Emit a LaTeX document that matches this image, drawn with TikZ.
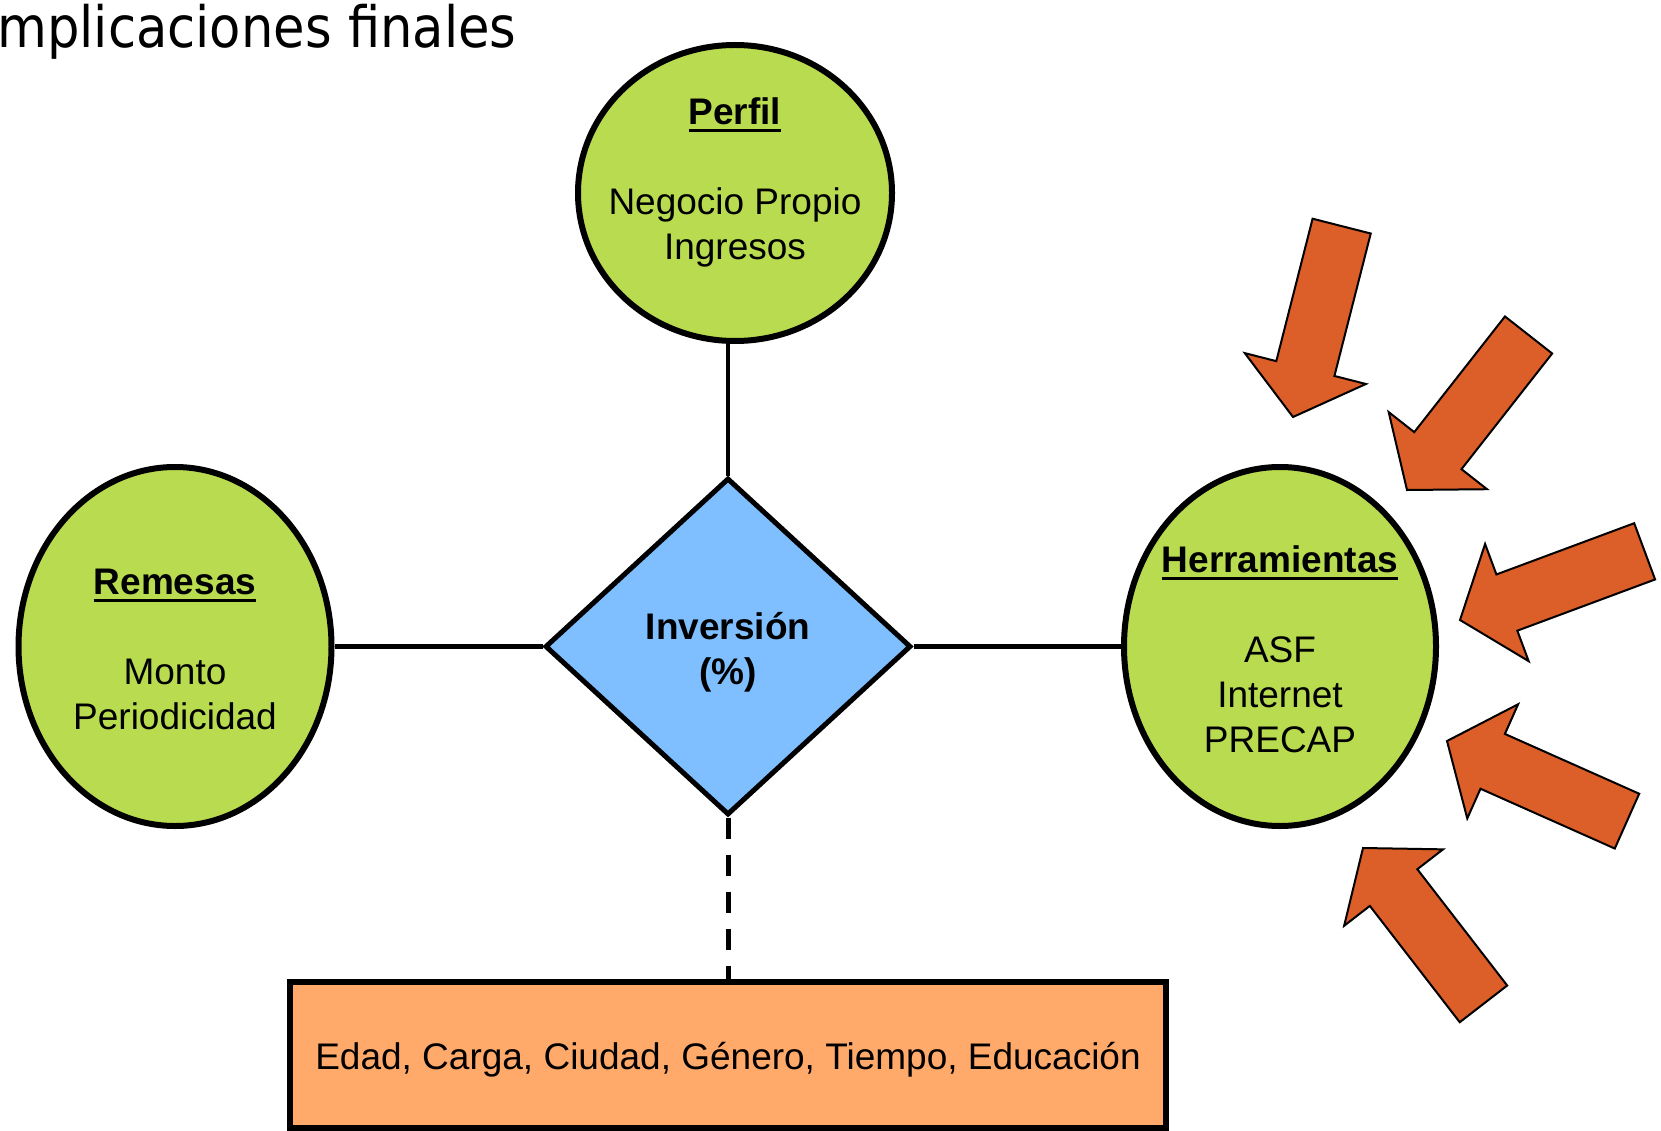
\documentclass[tikz,border=0pt]{standalone}
\usepackage{fontspec}
\setmainfont{Liberation Sans}
\newfontfamily\titlefont{DejaVu Sans}
\usetikzlibrary{shapes.geometric}

\definecolor{verde}{RGB}{185,219,79}
\definecolor{azul}{RGB}{128,191,255}
\definecolor{salmon}{RGB}{255,169,107}
\definecolor{naranja}{RGB}{220,94,40}

\newcommand{\subrayado}[1]{\setbox0\hbox{\textbf{#1}}\rlap{\rule[-7.6pt]{\wd0}{3.3pt}}\box0}

\tikzset{
  ent/.style={ellipse, draw, line width=6pt, fill=verde, inner xsep=-20pt,
    inner ysep=0pt, align=center, font=\fontsize{37}{45}\selectfont},
  rel/.style={diamond, draw, line width=5pt, fill=azul, inner sep=0pt,
    align=center, font=\fontsize{37}{45}\selectfont\bfseries},
  cajon/.style={rectangle, draw, line width=6pt, fill=salmon, inner sep=0pt,
    text height=28pt, text depth=0pt, font=\fontsize{37}{45}\selectfont},
  conn/.style={line width=4.5pt},
  flecha/.style={draw, line width=2pt, fill=naranja, line join=miter}
}

\begin{document}
\begin{tikzpicture}[x=1pt, y=1pt]
\useasboundingbox (0,0) rectangle (1661,-1131);

\node[anchor=base west, inner sep=0pt] (titulo) at (-3,-47.5)
  {\fontsize{57}{60}\titlefont\scalebox{0.898}[1]{mplicaciones finales}};

\node[ent, minimum width=314pt, minimum height=296pt] (perfil) at (735,-193)
  {\subrayado{Perfil}\\[45pt]Negocio Propio\\Ingresos\rule[-29pt]{0pt}{29pt}};
\node[ent, minimum width=313pt, minimum height=359pt] (remesas) at (175,-646.5)
  {\rule{0pt}{32pt}\subrayado{Remesas}\\[45pt]Monto\\Periodicidad};
\node[ent, minimum width=312pt, minimum height=359pt] (herram) at (1280,-646.5)
  {\rule{0pt}{32pt}\subrayado{Herramientas}\\[45pt]ASF\\Internet\\PRECAP};
\node[rel, minimum width=366pt, minimum height=337pt] (inversion) at (728,-646.5)
  {\rule{0pt}{38pt}Inversión\\(\%)};
\node[cajon, minimum width=876pt, minimum height=146pt] (factores) at (728,-1055)
  {Edad, Carga, Ciudad, Género, Tiempo, Educación};

% conectores
\draw[conn] (remesas) -- (inversion);
\draw[conn] (inversion) -- (herram);
\draw[conn] (inversion.north) -- (inversion.north |- perfil.south);
\draw[conn, line width=5pt, dash pattern=on 21pt off 16pt] (inversion.south) -- (factores.north);

% flechas hacia herramientas
\foreach \px/\py/\ang in {1293/-417/255.7, 1407/-490/231.9, 1460/-620/200.4,
                          1447/-741/156.0, 1363/-848/127.7}
{
    \draw[flecha, shift={(\px,\py)}, rotate=\ang]
      (0,0) -- (-50,62.5) -- (-50,30) -- (-197,30) -- (-197,-30)
      -- (-50,-30) -- (-50,-62.5) -- cycle;
}
\end{tikzpicture}
\end{document}
